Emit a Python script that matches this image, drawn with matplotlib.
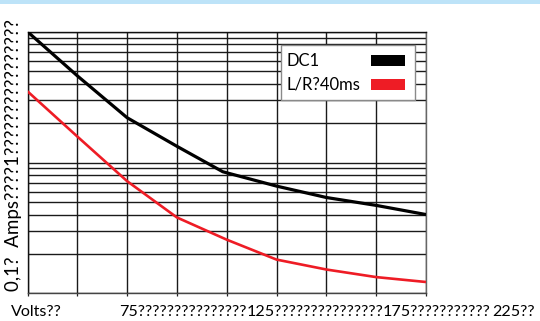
import matplotlib
matplotlib.use("Agg")
import matplotlib.pyplot as plt
from matplotlib.patches import Rectangle

# ---- data ----
series_names = ["DC1", "L/R?40ms"]
black_x = [25, 50, 75, 100, 123, 150, 175, 200, 225]
black_y = [10.0, 4.6, 2.2, 1.33, 0.85, 0.66, 0.54, 0.47, 0.40]
red_x = [25, 50, 75, 100, 125, 150, 175, 200, 225]
red_y = [3.5, 1.58, 0.72, 0.38, 0.257, 0.181, 0.152, 0.133, 0.122]
x_ticks = [25, 50, 75, 100, 125, 150, 175, 200, 225]
x_text_parts = ["Volts??", "75" + "?" * 15, "125" + "?" * 15, "175" + "?" * 11, "225??"]
y_text = "0,1?  Amps????1" + "?" * 16

FONT = "Lato"
W, H = 540, 321
fig = plt.figure(figsize=(W / 100, H / 100), dpi=100)
fig.patch.set_facecolor("white")

# top light-blue band
fig.patches.append(Rectangle((0, 1 - 3.5 / H), 1, 3.5 / H, transform=fig.transFigure,
                             facecolor="#bde3f8", edgecolor="none", zorder=0))

ax = fig.add_axes([27.5 / W, 1 - 293.3 / H, (426 - 27.5) / W, (293.3 - 31.7) / H])
ax.set_yscale("log")
ax.set_xlim(25, 225)
ax.set_ylim(0.1, 10)
ax.set_xticks(x_ticks)
ax.set_xticklabels([])
ax.tick_params(axis="x", direction="out", length=2.5, width=0.9, color="#222")
ax.tick_params(axis="y", which="both", left=False, labelleft=False)
ax.grid(True, which="both", axis="y", color="#1a1a1a", lw=1.0)
ax.grid(True, which="major", axis="x", color="#1a1a1a", lw=1.0)
for s in ["left", "top"]:
    ax.spines[s].set_color("#111")
    ax.spines[s].set_linewidth(1.0)
ax.spines["bottom"].set_color("#444")
ax.spines["bottom"].set_linewidth(1.0)
ax.spines["right"].set_color("#666")
ax.spines["right"].set_linewidth(1.0)

colors = ["#000000", "#ee1c25"]
ax.plot(black_x, black_y, color=colors[0], lw=2.3, zorder=5, solid_capstyle="butt")
ax.plot(red_x, red_y, color=colors[1], lw=1.9, zorder=5, solid_capstyle="butt")

# legend (manual, figure pixels)
def fx(px):
    return px / W

def fy(py):
    return 1 - py / H

fig.patches.append(Rectangle((fx(280.7), fy(100)), fx(415) - fx(280.7), fy(45) - fy(100),
                             transform=fig.transFigure, facecolor="white",
                             edgecolor="#8a8a8a", lw=1.0, zorder=10))
leg_rows = [(66, 55, 66), (90, 79, 90)]
for name, col, (base, t, b) in zip(series_names, colors, leg_rows):
    fig.text(fx(287), fy(base), name, fontsize=12, family=FONT, ha="left",
             va="baseline", zorder=11)
    fig.patches.append(Rectangle((fx(371), fy(b)), fx(405) - fx(371), fy(t) - fy(b),
                                 transform=fig.transFigure, facecolor=col,
                                 edgecolor="none", zorder=11))

# bottom x text
x_pos = [11, 119, 247, 383, 492]
for xp, txt in zip(x_pos, x_text_parts):
    fig.text(fx(xp), fy(316.5), txt, fontsize=11.6, family=FONT, ha="left", va="baseline")

# rotated y text
fig.text(fx(19.5), fy(291), y_text, fontsize=13.5, family=FONT, rotation=90,
         rotation_mode="anchor", ha="left", va="baseline")

fig.savefig("out.png", dpi=100)
